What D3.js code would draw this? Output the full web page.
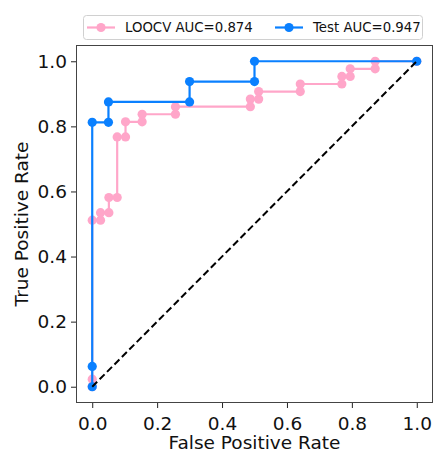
<!DOCTYPE html>
<html>
<head>
<meta charset="utf-8">
<script src="https://cdn.jsdelivr.net/npm/d3@7"></script>
<style>
  html, body { margin: 0; padding: 0; background: #fff; }
  svg { display: block; font-family: "DejaVu Sans", sans-serif; }
</style>
</head>
<body>
<svg id="chart" width="434" height="457"></svg>
<script>
// ROC curve points (false positive rate, true positive rate)
const loocvFpr = [0, 0, 0, 0.0256, 0.0256, 0.0513, 0.0513, 0.0769, 0.0769, 0.1026, 0.1026,
  0.1538, 0.1538, 0.2564, 0.2564, 0.4872, 0.4872, 0.5128, 0.5128, 0.641, 0.641,
  0.7692, 0.7692, 0.7949, 0.7949, 0.8718, 0.8718, 1.0];
const loocvTpr = [0, 0.0233, 0.5116, 0.5116, 0.5349, 0.5349, 0.5814, 0.5814, 0.7674, 0.7674, 0.814,
  0.814, 0.8372, 0.8372, 0.8605, 0.8605, 0.8837, 0.8837, 0.907, 0.907, 0.9302,
  0.9302, 0.9535, 0.9535, 0.9767, 0.9767, 1.0, 1.0];
const testFpr = [0, 0, 0, 0.05, 0.05, 0.3, 0.3, 0.5, 0.5, 1.0];
const testTpr = [0, 0.0625, 0.8125, 0.8125, 0.875, 0.875, 0.9375, 0.9375, 1.0, 1.0];

const seriesNames = ["LOOCV AUC=0.874", "Test AUC=0.947"];
const seriesColors = ["#FFA6C9", "#0A80FF"];
const tickValues = [0, 0.2, 0.4, 0.6, 0.8, 1.0];
const xLabel = "False Positive Rate";
const yLabel = "True Positive Rate";

const W = 434, H = 457;
const margin = { left: 76, top: 45, right: 1, bottom: 54 };
const iw = W - margin.left - margin.right;
const ih = H - margin.top - margin.bottom;

const svg = d3.select("#chart");
const g = svg.append("g").attr("transform", `translate(${margin.left},${margin.top})`);

const x = d3.scaleLinear().domain([-0.05, 1.05]).range([0, iw]);
const y = d3.scaleLinear().domain([-0.05, 1.05]).range([ih, 0]);

const fontSize = 18.5;

// axes
const xAxis = g.append("g").attr("transform", `translate(0,${ih})`)
  .call(d3.axisBottom(x).tickValues(tickValues).tickFormat(d3.format(".1f")).tickSize(5).tickPadding(4));
const yAxis = g.append("g")
  .call(d3.axisLeft(y).tickValues(tickValues).tickFormat(d3.format(".1f")).tickSize(5).tickPadding(4));
[xAxis, yAxis].forEach(a => {
  a.select(".domain").remove();
  a.selectAll(".tick line").attr("stroke", "#222").attr("stroke-width", 1);
  a.selectAll(".tick text").attr("fill", "#111").style("font-size", fontSize + "px")
    .style("font-family", "DejaVu Sans, sans-serif");
});
xAxis.selectAll(".tick text").attr("dy", "0.95em");

// frame
g.append("rect").attr("x", 0.5).attr("y", 0.5).attr("width", iw - 1).attr("height", ih - 1)
  .attr("fill", "none").attr("stroke", "#444").attr("stroke-width", 1);

const clip = g.append("g");

function drawSeries(fpr, tpr, color) {
  const pts = fpr.map((v, i) => [v, tpr[i]]);
  const line = d3.line().x(d => x(d[0])).y(d => y(d[1]));
  clip.append("path").datum(pts).attr("d", line)
    .attr("fill", "none").attr("stroke", color).attr("stroke-width", 2.2)
    .attr("stroke-linejoin", "round");
  clip.append("g").selectAll("circle").data(pts).join("circle")
    .attr("cx", d => x(d[0])).attr("cy", d => y(d[1])).attr("r", 4.6)
    .attr("fill", color);
}
drawSeries(loocvFpr, loocvTpr, seriesColors[0]);
drawSeries(testFpr, testTpr, seriesColors[1]);

// chance diagonal
clip.append("line")
  .attr("x1", x(0)).attr("y1", y(0)).attr("x2", x(1)).attr("y2", y(1))
  .attr("stroke", "#000").attr("stroke-width", 2).attr("stroke-dasharray", "7,3.5");

// axis labels
svg.append("text").attr("x", margin.left + iw / 2).attr("y", 449)
  .attr("text-anchor", "middle").style("font-size", fontSize + "px").attr("fill", "#111")
  .text(xLabel);
svg.append("text")
  .attr("transform", `translate(28,${margin.top + ih / 2}) rotate(-90)`)
  .attr("text-anchor", "middle").style("font-size", fontSize + "px").attr("fill", "#111")
  .text(yLabel);

// legend
const legFont = 13.3;
const leg = svg.append("g");
leg.append("rect").attr("x", 83.5).attr("y", 15.5).attr("width", 339).attr("height", 24)
  .attr("rx", 3).attr("fill", "#fff").attr("fill-opacity", 0.8)
  .attr("stroke", "#d0d0d0").attr("stroke-width", 1);
const entryX = [87, 275];
seriesNames.forEach((name, i) => {
  const ex = entryX[i];
  const ey = 27.5;
  leg.append("line").attr("x1", ex).attr("x2", ex + 28).attr("y1", ey).attr("y2", ey)
    .attr("stroke", seriesColors[i]).attr("stroke-width", 2.2);
  leg.append("circle").attr("cx", ex + 14).attr("cy", ey).attr("r", 4.6).attr("fill", seriesColors[i]);
  leg.append("text").attr("x", ex + 38).attr("y", ey).attr("dy", "0.35em")
    .style("font-size", legFont + "px").attr("fill", "#111").text(name);
});
</script>
</body>
</html>
